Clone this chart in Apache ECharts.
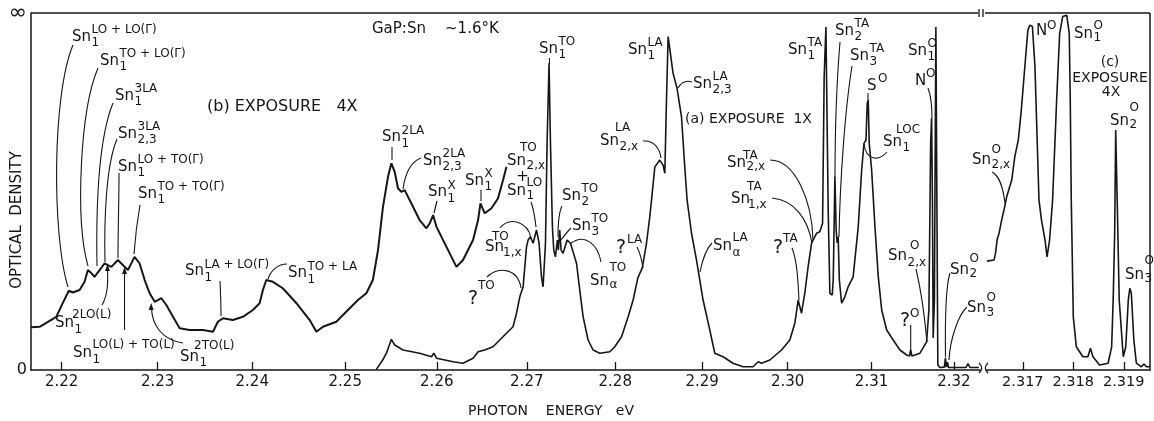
<!DOCTYPE html>
<html>
<head>
<meta charset="utf-8">
<script src="https://cdn.jsdelivr.net/npm/echarts@6/dist/echarts.min.js"></script>
<style>
html,body{margin:0;padding:0;background:#fff;}
#chart{width:1154px;height:421px;}
</style>
</head>
<body>
<div id="chart"></div>
<script>
// ---------------- DATA (photon energy in eV, optical density 0 .. 100 = "∞") ----------------
const bEnergy = [2.21685,2.21773,2.21842,2.21945,2.22013,2.22075,2.22117,2.22186,2.22238,2.22272,2.22307,2.22341,2.22394,2.22446,2.22480,2.22516,2.22584,2.22654,2.22689,2.22758,2.22810,2.22864,2.22916,2.22969,2.23039,2.23091,2.23161,2.23231,2.23336,2.23477,2.23583,2.23635,2.23688,2.23794,2.23901,2.24007,2.24079,2.24114,2.24150,2.24221,2.24327,2.24473,2.24616,2.24688,2.24759,2.24903,2.25048,2.25138,2.25229,2.25300,2.25356,2.25410,2.25465,2.25502,2.25538,2.25574,2.25611,2.25648,2.25702,2.25811,2.25886,2.25923,2.25959,2.25997,2.26107,2.26217,2.26290,2.26401,2.26457,2.26483,2.26531,2.26606,2.26679,2.26735,2.26773];
const bDensity = [12.0,12.1,13.2,14.9,18.8,22.2,21.7,22.4,24.7,28.0,27.2,26.1,28.0,29.9,29.4,28.9,30.8,28.9,28.0,31.7,29.9,25.2,21.5,19.1,20.1,18.2,14.9,11.7,11.2,11.2,10.7,13.5,14.5,14.0,14.9,16.8,18.7,22.4,25.2,24.7,22.9,18.7,14.0,10.7,12.1,13.5,17.3,19.6,21.5,25.2,33.6,45.7,54.1,57.9,55.5,50.9,49.9,50.4,47.6,42.0,39.7,41.1,43.4,40.1,34.5,28.9,30.8,36.4,42.0,46.7,43.9,45.3,48.1,53.2,56.9];

const aEnergy = [2.25336,2.25407,2.25448,2.25502,2.25538,2.25629,2.25811,2.25942,2.25967,2.25997,2.26180,2.26290,2.26401,2.26457,2.26531,2.26623,2.26698,2.26773,2.26846,2.26885,2.26922,2.26959,2.26978,2.26997,2.27015,2.27041,2.27071,2.27109,2.27138,2.27165,2.27183,2.27210,2.27228,2.27250,2.27266,2.27288,2.27303,2.27322,2.27344,2.27355,2.27370,2.27386,2.27408,2.27454,2.27492,2.27560,2.27597,2.27635,2.27691,2.27748,2.27824,2.27938,2.27995,2.28072,2.28147,2.28204,2.28258,2.28309,2.28357,2.28395,2.28415,2.28453,2.28510,2.28548,2.28568,2.28587,2.28606,2.28625,2.28663,2.28709,2.28760,2.28798,2.28825,2.28876,2.28934,2.28972,2.29010,2.29088,2.29146,2.29242,2.29358,2.29477,2.29594,2.29653,2.29693,2.29790,2.29928,2.30026,2.30085,2.30124,2.30164,2.30203,2.30242,2.30283,2.30342,2.30381,2.30414,2.30433,2.30454,2.30465,2.30481,2.30501,2.30529,2.30541,2.30561,2.30576,2.30588,2.30600,2.30614,2.30641,2.30680,2.30719,2.30779,2.30840,2.30881,2.30909,2.30933,2.30948,2.30960,2.30972,2.31001,2.31041,2.31081,2.31122,2.31182,2.31261,2.31342,2.31424,2.31458,2.31472,2.31488,2.31585,2.31666,2.31694,2.31715,2.31727,2.31737,2.31746,2.31761,2.31779,2.31791,2.31803,2.31828,2.31882,2.31896,2.31906,2.31920,2.31933,2.32147,2.32172,2.32196,2.32306];
const aDensity = [0.1,2.8,4.7,8.6,7.0,5.6,4.7,3.7,4.7,3.3,2.3,1.9,3.3,5.1,5.6,6.5,8.4,10.3,12.1,15.9,20.5,23.3,28.9,34.5,36.4,37.3,35.5,39.2,35.5,26.1,23.3,35.5,63.5,85.9,63.5,40.1,33.6,31.7,36.4,33.6,39.2,33.6,32.7,36.4,35.5,29.9,22.4,14.9,8.4,5.6,4.7,5.1,6.5,9.3,14.9,19.6,25.8,28.6,35.5,42.9,47.6,56.9,58.8,57.4,55.1,75.6,93.4,92.9,83.1,78.9,71.0,56.9,47.6,38.3,30.8,25.2,19.6,11.2,4.7,3.7,1.9,0.9,0.9,2.3,1.9,2.8,5.6,8.4,13.1,19.6,15.9,21.5,28.9,35.5,38.3,38.7,41.1,82.2,96.1,96.1,44.8,21.5,21.0,25.2,54.1,39.2,35.6,37.3,25.2,18.7,20.5,23.3,26.1,40.1,56.0,63.5,64.4,74.7,75.6,63.5,56.0,40.1,26.1,16.8,11.2,8.4,5.6,4.2,3.9,5.6,3.9,4.7,7.9,16.8,63.5,70.6,47.6,9.0,19.6,96.1,96.1,1.4,0.7,0.8,3.4,0.8,2.2,0.7,0.7,1.8,0.7,0.7];

const cEnergy = [2.31629,2.31643,2.31646,2.31649,2.31653,2.31658,2.31664,2.31668,2.31678,2.31684,2.31691,2.31697,2.31704,2.31710,2.31714,2.31719,2.31724,2.31728,2.31732,2.31737,2.31744,2.31748,2.31753,2.31759,2.31767,2.31773,2.31779,2.31787,2.31792,2.31794,2.31796,2.31800,2.31806,2.31819,2.31829,2.31834,2.31839,2.31852,2.31869,2.31876,2.31879,2.31882,2.31884,2.31887,2.31891,2.31899,2.31904,2.31909,2.31912,2.31915,2.31920,2.31925,2.31935,2.31940,2.31945,2.31952];
const cDensity = [30.5,30.8,32.8,36.4,38.4,42.0,45.7,48.5,53.2,59.7,64.4,72.8,85.0,95.2,96.6,96.2,85.0,66.3,47.6,42.0,36.4,31.7,36.4,47.6,75.6,94.3,99.0,99.4,94.3,75.6,47.6,14.9,6.5,3.7,3.7,6.1,3.7,1.4,1.9,6.5,19.6,38.4,67.2,47.6,19.6,3.7,6.5,19.6,22.9,21.5,8.4,1.9,0.9,1.7,0.9,0.9];

const mainTickEnergy = [2.22,2.23,2.24,2.25,2.26,2.27,2.28,2.29,2.30,2.31,2.32];
const mainTickLabels = ['2.22','2.23','2.24','2.25','2.26','2.27','2.28','2.29','2.30','2.31','2.32'];
const insetTickEnergy = [2.317,2.318,2.319];
const insetTickLabels = ['2.317','2.318','2.319'];
const yTickValues = [0,100];
const yTickLabels = ['0','∞'];

// spectrograph dispersion (energy scale of the main record is not linear)
const DISP_A = 96.8, DISP_B = -0.76;
function warp(E){ const t = (E - 2.22) * 100; return DISP_A * t + DISP_B * t * t; }
const E_MIN = 2.21685, E_MAX = 2.32320;
const C_MIN = 2.31629, C_MAX = 2.31952;

// ---------------- annotations ----------------
const FONT = 'DejaVu Sans';
const INK = '#161616';
const LABELS = [
 [72, 37, 'Sn', 'LO + LO(Γ)', '1'],
 [100, 61, 'Sn', 'TO + LO(Γ)', '1'],
 [115, 96, 'Sn', '3LA', '1'],
 [118, 134, 'Sn', '3LA', '2,3'],
 [118, 167, 'Sn', 'LO + TO(Γ)', '1'],
 [138, 194, 'Sn', 'TO + TO(Γ)', '1'],
 [55, 323.5, 'Sn', '2LO(L)', '1', {supDx: 17, supDy: -9}],
 [73, 353.5, 'Sn', 'LO(L) + TO(L)', '1', {supDy: -9}],
 [180, 357, 'Sn', '2TO(L)', '1', {supDx: 14, supDy: -11}],
 [185, 271.5, 'Sn', 'LA + LO(Γ)', '1'],
 [288, 273.5, 'Sn', 'TO + LA', '1'],
 [382, 137.5, 'Sn', '2LA', '1'],
 [423, 161, 'Sn', '2LA', '2,3'],
 [428, 192.5, 'Sn', 'X', '1'],
 [465, 181, 'Sn', 'X', '1'],
 [507, 161.5, 'Sn', 'TO', '2,x', {supDx: 13, supDy: -13.5, subDy: 4}],
 [507, 191.5, 'Sn', 'LO', '1', {supDy: -8.5, subDy: 4.5}],
 [539, 49, 'Sn', 'TO', '1'],
 [562, 196, 'Sn', 'TO', '2'],
 [572, 226, 'Sn', 'TO', '3'],
 [590, 281, 'Sn', 'TO', 'α', {supDy: -13, subDy: 4}],
 [485, 247, 'Sn', 'TO', '1,x', {supDx: 7, supDy: -10, subDx: 18, subDy: 5.5}],
 [600, 141, 'Sn', 'LA', '2,x', {supDx: 15, supDy: -13, subDy: 6}],
 [628, 50, 'Sn', 'LA', '1'],
 [693, 84, 'Sn', 'LA', '2,3'],
 [713, 246, 'Sn', 'LA', 'α', {supDy: -8, subDy: 7}],
 [727, 163.5, 'Sn', 'TA', '2,x', {supDx: 16, supDy: -7.5, subDy: 3.5}],
 [731, 199, 'Sn', 'TA', '1,x', {supDx: 16, supDy: -12, subDx: 17, subDy: 6}],
 [788, 50, 'Sn', 'TA', '1'],
 [835, 31, 'Sn', 'TA', '2'],
 [850, 56, 'Sn', 'TA', '3'],
 [883, 142, 'Sn', 'LOC', '1', {supDx: 13, supDy: -12}],
 [908, 51, 'Sn', 'O', '1'],
 [888, 256.5, 'Sn', 'O', '2,x', {supDx: 22, supDy: -10.5, subDy: 6}],
 [950, 270, 'Sn', 'O', '2', {supDy: -11, subDy: 4}],
 [967, 308.5, 'Sn', 'O', '3', {supDy: -11, subDy: 4}],
 [1074, 34, 'Sn', 'O', '1', {supDy: -8, subDy: 3.5}],
 [1110, 121.5, 'Sn', 'O', '2', {supDy: -14, subDy: 3}],
 [972, 160, 'Sn', 'O', '2,x', {supDy: -10, subDy: 5}],
 [1125, 275, 'Sn', 'O', '3', {supDy: -14, subDy: 4}],
 [867, 86, 'S', 'O', '', {supDx: 11, supDy: -7}],
 [915, 81, 'N', 'O', '', {supDx: 11, supDy: -7}],
 [1036, 31, 'N', 'O', '', {supDx: 11, supDy: -5}],
 [468, 299, '?', 'TO', '', {mainSize: 19, supDx: 10, supDy: -13}],
 [616, 248, '?', 'LA', '', {mainSize: 19, supDx: 11, supDy: -8}],
 [773, 248, '?', 'TA', '', {mainSize: 19, supDx: 10, supDy: -9}],
 [900, 321.5, '?', 'O', '', {mainSize: 19, supDx: 10, supDy: -7.5}]
];
const TEXTS = [
 [372, 29, 'GaP:Sn    ~1.6°K', 15, 'left'],
 [207, 107, '(b) EXPOSURE   4X', 16, 'left'],
 [685, 119, '(a) EXPOSURE  1X', 14, 'left'],
 [1110, 62, '(c)', 14, 'center'],
 [1110, 78.5, 'EXPOSURE', 14, 'center'],
 [1111, 92.5, '4X', 14, 'center'],
 [522.5, 177, '+', 15, 'center'],
 [468, 411, 'PHOTON    ENERGY   eV', 14, 'left']
];
// leader lines: x1,y1, c1x,c1y, c2x,c2y, x2,y2
const LEADERS = [
 [73,45, 52,95, 52,235, 68,287],
 [98,68, 80,110, 75,220, 88,266],
 [113,103, 98,140, 96,210, 97,266],
 [117,139, 106,165, 104,220, 105,262],
 [119,173, 119,200, 118,230, 118,258],
 [140,205, 137,222, 135,240, 134,254],
 [102,305, 108,295, 108,282, 107.5,268],
 [124.5,330, 124.5,310, 124.5,290, 124.5,272],
 [183,343, 162,340, 152,325, 151.5,308],
 [220,281, 220.5,292, 221,305, 221,316],
 [287,264, 278,264, 271,270, 268,279],
 [392,147, 392,151, 392,156, 392,160],
 [421,158, 410,162, 405,175, 403,189],
 [437,201, 436,205, 435,209, 434,213],
 [481,190, 481,194, 481,198, 481,201],
 [531,202, 534,210, 535,218, 536,227],
 [549.5,58, 549.5,60, 549.5,62, 549.5,64],
 [562,206, 558,214, 558,226, 558,237],
 [571,228, 567,232, 564,236, 561,240],
 [601,262, 598,245, 585,232, 570,244],
 [500,228, 510,216, 528,222, 531,238],
 [487,277, 498,266, 518,268, 521,288],
 [692,82, 686,80, 681,83, 678,88],
 [643,141, 655,140, 660,150, 661,158],
 [637,247, 640,253, 642,261, 643,268],
 [712,243, 705,250, 702,262, 700,272],
 [792,248, 797,260, 798,280, 799,300],
 [770,160, 795,160, 812,200, 813,240],
 [772,198, 795,200, 808,220, 812,243],
 [840,42, 836,90, 835,140, 835,178],
 [852,66, 845,110, 840,180, 839,237],
 [868,93, 868,95, 868,97, 868,100],
 [887,152, 878,162, 866,160, 864,144],
 [928,88, 931,96, 932,108, 932,118],
 [916,269, 921,290, 925,320, 927,342],
 [910.7,325, 910.7,335, 910.7,345, 910.7,352],
 [950,273, 946,285, 945,320, 945.5,357],
 [967,307, 958,315, 950,340, 949,360],
 [992,172, 1000,176, 1003,188, 1005,203]
];
const ARROWS = [
 [[107.5,264],[105,271],[110,271]],
 [[124.5,267],[122,274],[127,274]],
 [[151.2,303],[148.6,310],[153.6,310]]
];

// ---------------- build ----------------
const graphics = [];
function txt(x, y, s, size, align){
  graphics.push({type:'text', x:x, y:y, z:20, silent:true,
    style:{text:s, fontSize:size, fontFamily:FONT, fill:INK, align:align||'left', verticalAlign:'middle'}});
}
const MAIN_W = {Sn:19.5, S:10, N:11, '?':10};
LABELS.forEach(function(L){
  const x=L[0], yc=L[1], m=L[2], sup=L[3], sub=L[4], o=L[5]||{};
  const w = MAIN_W[m];
  txt(x, yc, m, o.mainSize||15, 'left');
  if (sup) txt(x + (o.supDx!=null?o.supDx:w), yc + (o.supDy!=null?o.supDy:-7), sup, 12, 'left');
  if (sub) txt(x + (o.subDx!=null?o.subDx:w), yc + (o.subDy!=null?o.subDy:6), sub, 12, 'left');
});
TEXTS.forEach(function(T){ txt(T[0], T[1], T[2], T[3], T[4]); });
graphics.push({type:'text', x:17, y:220, rotation:Math.PI/2, z:20, silent:true,
  style:{text:'OPTICAL  DENSITY', fontSize:15, fontFamily:FONT, fill:INK, align:'center', verticalAlign:'middle'}});
LEADERS.forEach(function(p){
  graphics.push({type:'bezierCurve', z:15, silent:true,
    shape:{x1:p[0],y1:p[1],cpx1:p[2],cpy1:p[3],cpx2:p[4],cpy2:p[5],x2:p[6],y2:p[7]},
    style:{stroke:INK, lineWidth:1.1, fill:null}});
});
ARROWS.forEach(function(pts){
  graphics.push({type:'polygon', z:15, silent:true, shape:{points:pts}, style:{fill:INK}});
});
// frame: top border with break, right border, axis-break marks
function seg(x1,y1,x2,y2,w){
  graphics.push({type:'line', z:12, silent:true, shape:{x1:x1,y1:y1,x2:x2,y2:y2}, style:{stroke:INK, lineWidth:w||1.5}});
}
seg(31,13,978,13); seg(985,13,1150,13); seg(1150,13,1150,370.5);
seg(979,9,979,17,1.3); seg(983,9,983,17,1.3);
graphics.push({type:'bezierCurve', z:12, silent:true, shape:{x1:979,y1:363,cpx1:982.5,cpy1:366,cpx2:982.5,cpy2:370,x2:979,y2:373}, style:{stroke:INK,lineWidth:1.3,fill:null}});
graphics.push({type:'bezierCurve', z:12, silent:true, shape:{x1:988,y1:363,cpx1:984.5,cpy1:366,cpx2:984.5,cpy2:370,x2:988,y2:373}, style:{stroke:INK,lineWidth:1.3,fill:null}});

function pairs(E, D, f){ return E.map(function(e,i){ return [f ? f(e) : e, D[i]]; }); }
const lineStyle = {color:INK, width:1.6};
const axisLineStyle = {color:INK, width:1.5};

const chart = echarts.init(document.getElementById('chart'), null, {renderer:'canvas'});
chart.setOption({
  animation:false,
  backgroundColor:'#fff',
  grid:[
    {left:31, top:13, width:949, height:357},
    {left:987, top:13, width:163, height:357}
  ],
  xAxis:[
    {type:'value', gridIndex:0, min:warp(E_MIN), max:warp(E_MAX),
     axisLine:{show:true, onZero:false, lineStyle:axisLineStyle},
     axisTick:{show:true, inside:true, length:8, customValues:mainTickEnergy.map(warp), lineStyle:{color:INK, width:1.3}},
     axisLabel:{show:true, customValues:mainTickEnergy.map(warp), margin:5, fontSize:15, fontFamily:FONT, color:INK,
       formatter:function(v){ for (let i=0;i<mainTickEnergy.length;i++){ if (Math.abs(warp(mainTickEnergy[i])-v)<0.5) return mainTickLabels[i]; } return ''; }},
     splitLine:{show:false}},
    {type:'value', gridIndex:1, min:C_MIN, max:C_MAX,
     axisLine:{show:true, onZero:false, lineStyle:axisLineStyle},
     axisTick:{show:true, inside:true, length:8, customValues:insetTickEnergy, lineStyle:{color:INK, width:1.3}},
     axisLabel:{show:true, customValues:insetTickEnergy, margin:5, fontSize:14.5, fontFamily:FONT, color:INK,
       formatter:function(v){ for (let i=0;i<insetTickEnergy.length;i++){ if (Math.abs(insetTickEnergy[i]-v)<1e-6) return insetTickLabels[i]; } return ''; }},
     splitLine:{show:false}}
  ],
  yAxis:[
    {type:'value', gridIndex:0, min:0, max:100,
     axisLine:{show:true, onZero:false, lineStyle:axisLineStyle},
     axisTick:{show:false},
     axisLabel:{show:true, customValues:yTickValues, margin:4, fontSize:16, fontFamily:FONT, color:INK,
       formatter:function(v){ const s = yTickLabels[yTickValues.indexOf(v)]; return s === '∞' ? '{inf|∞}' : s; },
       rich:{inf:{fontSize:22, fontFamily:FONT, color:INK}}},
     splitLine:{show:false}},
    {type:'value', gridIndex:1, min:0, max:100, show:false}
  ],
  series:[
    {type:'line', name:'(b) exposure 4X', xAxisIndex:0, yAxisIndex:0, data:pairs(bEnergy,bDensity,warp), symbol:'none', lineStyle:{color:INK, width:2}, z:5},
    {type:'line', name:'(a) exposure 1X', xAxisIndex:0, yAxisIndex:0, data:pairs(aEnergy,aDensity,warp), symbol:'none', lineStyle:lineStyle, z:5},
    {type:'line', name:'(c) exposure 4X', xAxisIndex:1, yAxisIndex:1, data:pairs(cEnergy,cDensity), symbol:'none', lineStyle:lineStyle, z:5}
  ],
  graphic:{elements:graphics}
});
</script>
</body>
</html>
